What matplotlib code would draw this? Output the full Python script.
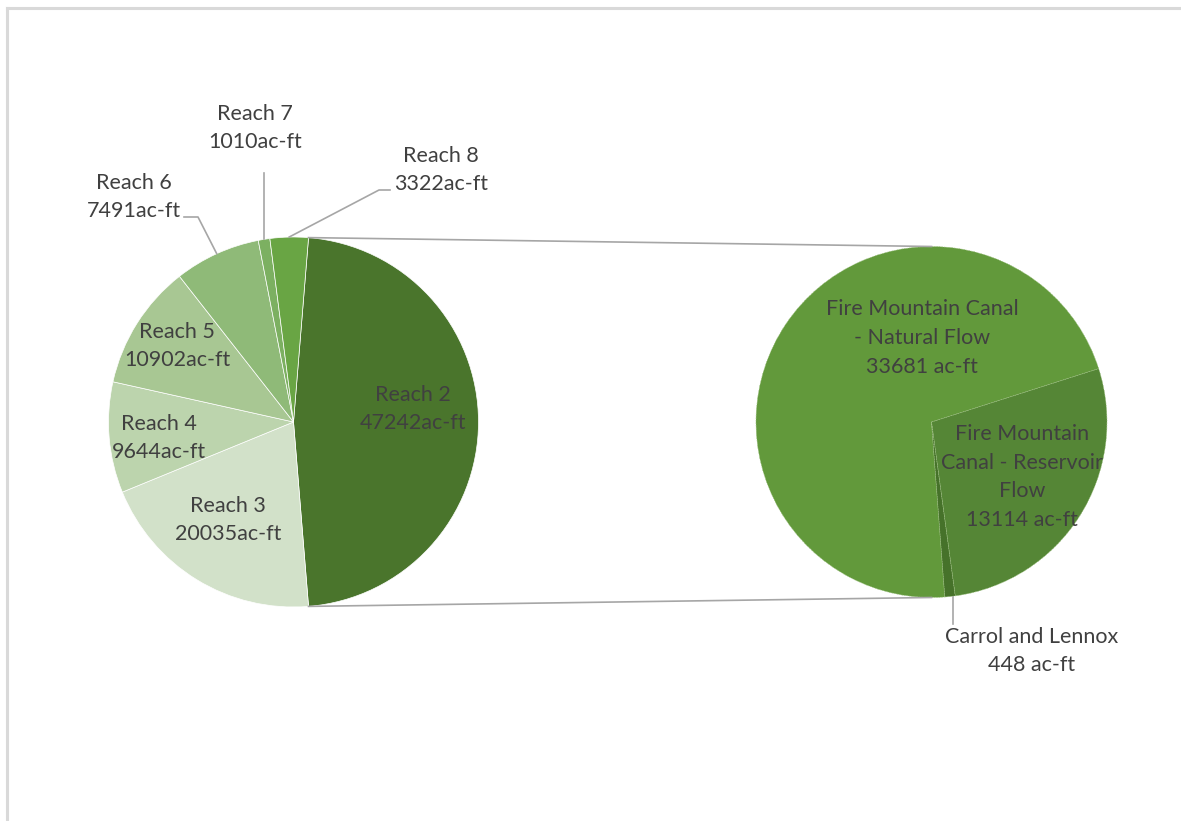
import numpy as np
import matplotlib
matplotlib.use("Agg")
import matplotlib.pyplot as plt
from matplotlib.lines import Line2D

W, H = 1181, 821

# left pie: reaches (clockwise from the split slice)
reach_names = ["Reach 2", "Reach 3", "Reach 4", "Reach 5", "Reach 6", "Reach 7", "Reach 8"]
reach_vals = [47242, 20035, 9644, 10902, 7491, 1010, 3322]
reach_colors = ["#4A752C", "#D2E1C9", "#BCD4AD", "#A8C793", "#8FBA78", "#7CB061", "#69A544"]

# right pie: breakdown of Reach 2
split_names = ["Fire Mountain Canal\n- Natural Flow", "Fire Mountain\nCanal - Reservoir\nFlow", "Carrol and Lennox"]
split_vals = [33681, 13114, 448]
split_colors = ["#62993B", "#558636", "#46722A"]

TXT = "#404040"
LINE = "#A6A6A6"
plt.rcParams['font.family'] = ['Lato', 'DejaVu Sans']


def py(y):
    # pixel row -> data y
    return H - y


fig = plt.figure(figsize=(W / 100, H / 100), dpi=100)
ax = fig.add_axes([0, 0, 1, 1])

# left pie, split slice centred on the right
c1, r1 = (293.5, py(422)), 185
frac2 = reach_vals[0] / sum(reach_vals)
start1 = 180 * frac2
w1, _ = ax.pie(reach_vals, colors=reach_colors, startangle=start1, counterclock=False,
               center=c1, radius=r1, wedgeprops=dict(edgecolor="white", linewidth=0.5))

# right pie
c2, r2 = (931.5, py(422)), 175.5
boundary = 17.7  # angle of natural/reservoir border
nat_ang = 360 * split_vals[0] / sum(split_vals)
w2, _ = ax.pie(split_vals, colors=split_colors, startangle=boundary + nat_ang, counterclock=False,
               center=c2, radius=r2, wedgeprops=dict(edgecolor="#9CC07F", linewidth=0.4,
                                                    linestyle=(0, (3, 1.5))))


def edge_pt(c, r, ang):
    a = np.deg2rad(ang)
    return c[0] + r * np.cos(a), c[1] + r * np.sin(a)


# connector lines between the pies
top_l = edge_pt(c1, r1, start1)
bot_l = edge_pt(c1, r1, -start1)
ax.plot([top_l[0], c2[0]], [top_l[1], c2[1] + r2], color=LINE, lw=1.2)
ax.plot([bot_l[0], c2[0]], [bot_l[1], c2[1] - r2], color=LINE, lw=1.2)

# labels (pixel positions of block centres)
left_pos = [(413, 409), (228, 520), (159, 438), (177, 346), (134, 197), (255, 128), (441, 170)]
for name, v, (x, y) in zip(reach_names, reach_vals, left_pos):
    ax.text(x, py(y), f"{name}\n{v}ac-ft", ha="center", va="center", fontsize=15.5,
            color=TXT, linespacing=1.55)

right_pos = [(922, 338), (1022, 477), (1032, 651)]
for name, v, (x, y) in zip(split_names, split_vals, right_pos):
    ax.text(x, py(y), f"{name}\n{v} ac-ft", ha="center", va="center", fontsize=15.5,
            color=TXT, linespacing=1.55)


def mid_pt(w):
    return edge_pt(w.center, w.r, (w.theta1 + w.theta2) / 2)


# leader lines
p6 = mid_pt(w1[4])
ax.plot([184, 198, p6[0]], [py(217), py(217), p6[1]], color=LINE, lw=1.2)
p7 = mid_pt(w1[5])
ax.plot([p7[0], p7[0]], [p7[1], py(173)], color=LINE, lw=1.2)
p8 = mid_pt(w1[6])
ax.plot([p8[0], 379, 390], [p8[1], py(190), py(190)], color=LINE, lw=1.2)
pc = mid_pt(w2[2])
ax.plot([pc[0] + 3, pc[0] + 3], [pc[1], py(624)], color=LINE, lw=1.2)

ax.set_xlim(0, W)
ax.set_ylim(0, H)
ax.set_aspect("equal")
ax.axis("off")

# chart-area border (top and left only visible)
fig.add_artist(Line2D([7 / W, 1], [1 - 8 / H, 1 - 8 / H], color="#D9D9D9", lw=2.2))
fig.add_artist(Line2D([7 / W, 7 / W], [0, 1 - 8 / H], color="#D9D9D9", lw=2.2))

fig.savefig("out.png", dpi=100, facecolor="white")
